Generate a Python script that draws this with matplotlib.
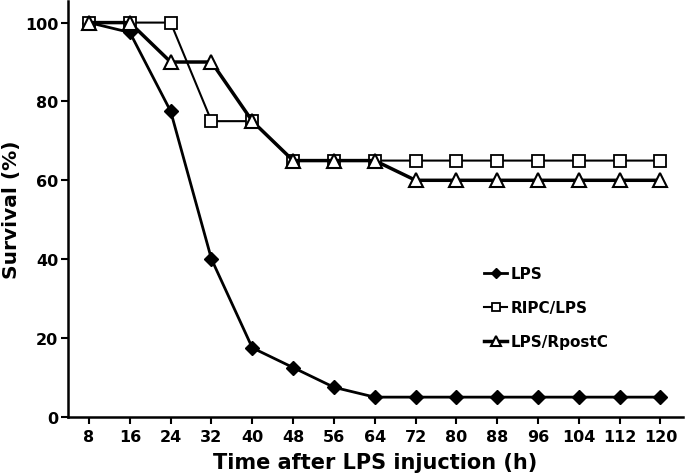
import matplotlib.pyplot as plt

plt.rcParams['font.family'] = ['DejaVu Sans']
plt.rcParams['font.weight'] = 'bold'

hours = [8, 16, 24, 32, 40, 48, 56, 64, 72, 80, 88, 96, 104, 112, 120]
lps = [100, 97.5, 77.5, 40, 17.5, 12.5, 7.5, 5, 5, 5, 5, 5, 5, 5, 5]
ripc_lps = [100, 100, 100, 75, 75, 65, 65, 65, 65, 65, 65, 65, 65, 65, 65]
lps_rpostc = [100, 100, 90, 90, 75, 65, 65, 65, 60, 60, 60, 60, 60, 60, 60]

x = list(range(len(hours)))

fig = plt.figure(figsize=(6.85, 4.77), dpi=100)
ax = fig.add_axes([0.099, 0.124, 0.898, 0.872])

ax.plot(x, lps, 'k-', marker='D', ms=7, lw=2, label='LPS')
ax.plot(x, ripc_lps, 'k-', marker='s', ms=8.5, mfc='white', mew=1.3, lw=1.5, label='RIPC/LPS')
ax.plot(x, lps_rpostc, 'k-', marker='^', ms=10, mfc='white', mew=1.5, lw=2.5, label='LPS/RpostC')

ax.set_xlim(-0.52, 14.55)
ax.set_ylim(0, 105.5)
ax.set_yticks([0, 20, 40, 60, 80, 100])
ax.set_xticks(x)
ax.set_xticklabels([str(h) for h in hours])
ax.tick_params(axis='both', labelsize=11.5, width=1.5, length=5, direction='out')
ax.tick_params(axis='y', pad=2)
for lab in ax.get_xticklabels() + ax.get_yticklabels():
    lab.set_fontweight('bold')

ax.spines['top'].set_visible(False)
ax.spines['right'].set_visible(False)
ax.spines['left'].set_linewidth(1.8)
ax.spines['bottom'].set_linewidth(1.8)

ax.set_xlabel('Time after LPS injuction (h)', fontsize=15, fontweight='bold', labelpad=6)
ax.set_ylabel('Survival (%)', fontsize=14.5, fontweight='bold', labelpad=3)

leg = ax.legend(loc='upper left', bbox_to_anchor=(0.655, 0.395), frameon=False,
                fontsize=11, handlelength=1.5, handletextpad=0.2, labelspacing=1.25,
                markerscale=0.7)
for t in leg.get_texts():
    t.set_fontweight('bold')

fig.savefig('out.png', dpi=100)
